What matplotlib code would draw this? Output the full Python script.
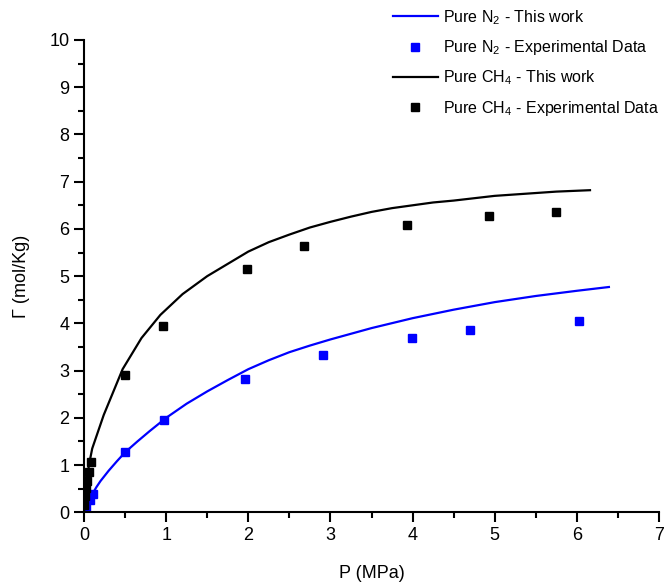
import matplotlib
matplotlib.use("Agg")
import matplotlib.pyplot as plt
from matplotlib.ticker import MultipleLocator

plt.rcParams['font.family'] = ['Liberation Sans', 'DejaVu Sans']
plt.rcParams['mathtext.default'] = 'regular'

# Model curves
p_n2_model = [0, 0.05, 0.1, 0.15, 0.2, 0.3, 0.4, 0.5, 0.65, 0.8, 1.0, 1.25, 1.5, 1.75, 2.0,
              2.25, 2.5, 2.75, 3.0, 3.5, 4.0, 4.5, 5.0, 5.5, 6.0, 6.39]
g_n2_model = [0, 0.2, 0.38, 0.53, 0.66, 0.88, 1.08, 1.27, 1.5, 1.72, 2.0, 2.3, 2.56, 2.8, 3.03,
              3.22, 3.39, 3.53, 3.66, 3.9, 4.11, 4.29, 4.45, 4.58, 4.69, 4.77]

p_ch4_model = [0, 0.01, 0.03, 0.06, 0.1, 0.24, 0.47, 0.70, 0.93, 1.2, 1.5, 2.0, 2.25, 2.5, 2.75,
               3.0, 3.25, 3.5, 3.75, 4.0, 4.25, 4.5, 4.75, 5.0, 5.25, 5.5, 5.75, 6.16]
g_ch4_model = [0, 0.25, 0.6, 1.0, 1.35, 2.06, 3.03, 3.69, 4.18, 4.62, 5.0, 5.52, 5.72, 5.88, 6.03,
               6.15, 6.26, 6.36, 6.44, 6.5, 6.56, 6.6, 6.65, 6.7, 6.73, 6.76, 6.79, 6.82]

# Experimental data
p_n2_exp = [0.01, 0.03, 0.07, 0.105, 0.5, 0.97, 1.965, 2.91, 3.99, 4.70, 6.03]
g_n2_exp = [0.05, 0.12, 0.25, 0.38, 1.27, 1.96, 2.82, 3.32, 3.68, 3.85, 4.06]

p_ch4_exp = [0.005, 0.015, 0.025, 0.04, 0.06, 0.09, 0.5, 0.96, 1.98, 2.68, 3.93, 4.93, 5.75]
g_ch4_exp = [0.15, 0.35, 0.52, 0.66, 0.86, 1.07, 2.9, 3.95, 5.16, 5.63, 6.08, 6.28, 6.36]

labels = ['Pure N$_2$ - This work', 'Pure N$_2$ - Experimental Data',
          'Pure CH$_4$ - This work', 'Pure CH$_4$ - Experimental Data']

fig = plt.figure(figsize=(6.68, 5.87), dpi=100)
ax = fig.add_axes([84/668, 1 - 512.3/587, (659-84)/668, (512.3-40)/587])

ax.plot(p_n2_model, g_n2_model, color='#0000ff', lw=1.6, label=labels[0])
ax.plot(p_n2_exp, g_n2_exp, 's', color='#0000ff', ms=5.5, ls='none', label=labels[1])
ax.plot(p_ch4_model, g_ch4_model, color='black', lw=1.6, label=labels[2])
ax.plot(p_ch4_exp, g_ch4_exp, 's', color='black', ms=5.5, ls='none', label=labels[3])

ax.set_xlim(0, 7)
ax.set_ylim(0, 10)
ax.xaxis.set_major_locator(MultipleLocator(1))
ax.xaxis.set_minor_locator(MultipleLocator(0.5))
ax.yaxis.set_major_locator(MultipleLocator(1))
ax.yaxis.set_minor_locator(MultipleLocator(0.5))
for s in ['top', 'right']:
    ax.spines[s].set_visible(False)
for s in ['left', 'bottom']:
    ax.spines[s].set_linewidth(1.5)
ax.tick_params(which='major', direction='out', length=7, width=1.5, labelsize=13)
ax.tick_params(which='minor', direction='out', length=4, width=1.5)

ax.set_xlabel('P (MPa)', fontsize=13, labelpad=15)
ax.set_ylabel('Γ (mol/Kg)', fontsize=13, labelpad=14)

fig.legend(loc='upper left', bbox_to_anchor=(393/668, 1 - 8/587), frameon=False,
           fontsize=11.5, handlelength=2.8, handletextpad=0.35, labelspacing=0.72,
           borderpad=0, borderaxespad=0, markerscale=1.0)

fig.savefig('out.png', dpi=100)
